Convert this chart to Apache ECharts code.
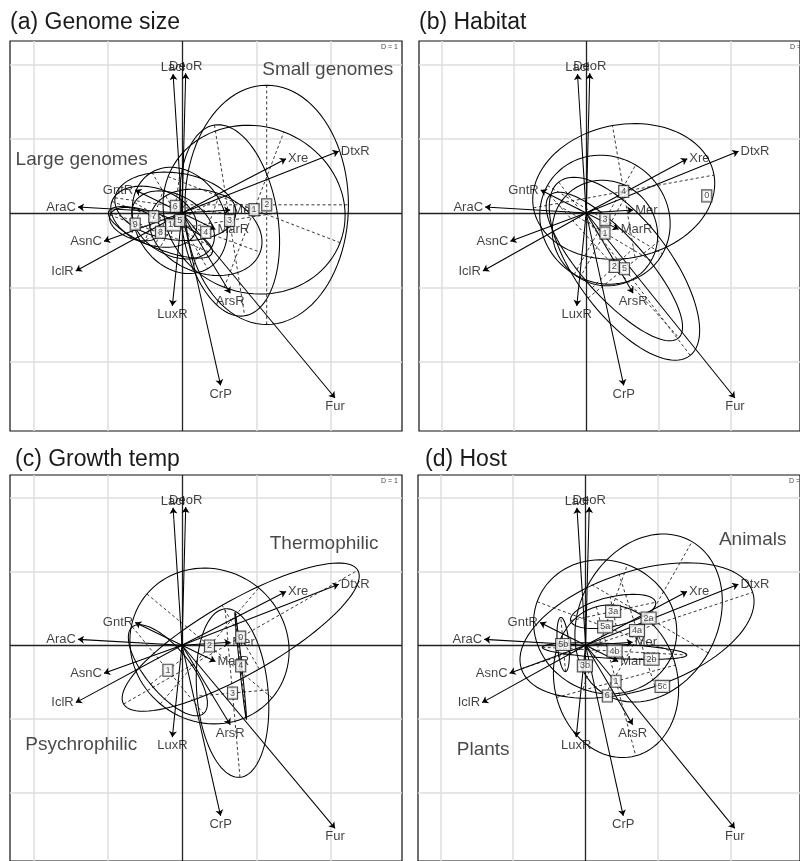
<!DOCTYPE html>
<html><head><meta charset="utf-8">
<script src="https://cdn.jsdelivr.net/npm/echarts@6.0.0/dist/echarts.min.js"></script>
<style>html,body{margin:0;padding:0;background:#fff}#c{width:800px;height:861px}</style>
</head><body><div id="c"></div>
<script>
// ---- shared biplot arrows (same in all four panels) ----
var arrowNames = ['LacI','DeoR','DtxR','Xre','GntR','AraC','AsnC','IclR','LuxR','CrP','Fur','ArsR','MarR','Mer'];
var arrowX = [-0.12, 0.05, 2.11, 1.40, -0.63, -1.40, -1.05, -1.43, -0.13, 0.52, 2.06, 0.65, 0.45, 0.65];
var arrowY = [1.87, 1.88, 0.83, 0.73, 0.31, 0.08, -0.38, -0.78, -1.25, -2.32, -2.49, -1.08, -0.22, 0.04];

var gridTicks = [-2, -1, 0, 1, 2];
var panelTitles = ['(a) Genome size', '(b) Habitat', '(c) Growth temp', '(d) Host'];

// ---- (a) genome size classes: centroid + ellipse [semi-axis a, semi-axis b, angle deg] ----
var genomeLabels = ['10', '1', '2', '3', '4', '5', '6', '7', '8', '9'];
var genomeX = [-0.12, 0.97, 1.14, 0.64, 0.32, -0.03, -0.09, -0.38, -0.29, -0.63];
var genomeY = [-0.16, 0.045, 0.11, -0.10, -0.26, -0.10, 0.09, -0.05, -0.26, -0.15];
var genomeEll = [[0.6, 0.4, -30], [1.24, 1.12, -21], [1.10, 1.61, 0], [1.3, 0.65, -81], [0.78, 0.55, -20],
                 [0.75, 0.6, -60], [0.82, 0.45, -8], [0.6, 0.38, -20], [0.75, 0.22, -22], [0.36, 0.2, -20]];

// ---- (b) habitat ----
var habitatLabels = ['0', '1', '2', '3', '4', '5'];
var habitatX = [1.67, 0.26, 0.39, 0.26, 0.52, 0.53];
var habitatY = [0.23, -0.27, -0.72, -0.09, 0.29, -0.75];
var habitatEll = [null, [0.74, 0.70, -30], [1.31, 0.42, -47], [0.92, 0.85, -30], [1.27, 0.90, 10], [1.48, 0.64, -52]];

// ---- (c) growth temperature ----
var tempLabels = ['0', '1', '2', '3', '4'];
var tempX = [0.79, -0.19, 0.37, 0.68, 0.79];
var tempY = [0.11, -0.34, -0.01, -0.65, -0.28];
var tempEll = [[1.82, 0.5, 30], [0.76, 0.3, -51], [1.1, 1.03, -40], [1.15, 0.48, 95], [0.73, 0.015, 96]];

// ---- (d) host ----
var hostLabels = ['1', '2a', '2b', '3a', '3b', '4a', '4b', '5a', '5b', '5c', '6'];
var hostX = [0.42, 0.87, 0.91, 0.38, -0.01, 0.71, 0.40, 0.27, -0.31, 1.06, 0.30];
var hostY = [-0.49, 0.37, -0.19, 0.46, -0.28, 0.20, -0.08, 0.25, 0.01, -0.56, -0.69];
var hostEll = [[1.05, 0.85, -75], [1.2, 0.95, 60], null, [0.6, 0.2, 12], null, [1.68, 0.8, 18],
               [1.0, 0.1, -3], [1.0, 0.9, -20], [0.37, 0.08, 95], null, null];

// ---- group annotations (text, data x of left edge, data y) ----
var annotText = [['Small genomes', 'Large genomes'], [], ['Thermophilic', 'Psychrophilic'], ['Animals', 'Plants']];
var annotX = [[1.08, -2.24], [], [1.18, -2.11], [1.84, -1.78]];
var annotY = [[1.93, 0.72], [], [1.38, -1.35], [1.43, -1.42]];

var panels = [
  {labels: genomeLabels, x: genomeX, y: genomeY, ell: genomeEll},
  {labels: habitatLabels, x: habitatX, y: habitatY, ell: habitatEll},
  {labels: tempLabels, x: tempX, y: tempY, ell: tempEll},
  {labels: hostLabels, x: hostX, y: hostY, ell: hostEll}
];

var FONT = '"Liberation Sans", Arial, Helvetica, sans-serif';
var frames = [{left: 10, top: 41}, {left: 419, top: 41}, {left: 10, top: 475}, {left: 418, top: 475}];
var FW = 392, FH = 390;
var XMIN = -2.315, XMAX = 2.961, YMIN = -2.934, YMAX = 2.315;
var titlePos = [[10, 23], [419, 23], [15, 460], [425, 460]];

function ellipseItem(params, api) {
  var cx = api.value(0), cy = api.value(1), a = api.value(2), b = api.value(3);
  var t0 = api.value(4) * Math.PI / 180, ca = Math.cos(t0), sa = Math.sin(t0);
  var pts = [];
  for (var i = 0; i <= 96; i++) {
    var t = i / 96 * Math.PI * 2, u = a * Math.cos(t), v = b * Math.sin(t);
    pts.push(api.coord([cx + u * ca - v * sa, cy + u * sa + v * ca]));
  }
  var p1 = api.coord([cx - a * ca, cy - a * sa]), p2 = api.coord([cx + a * ca, cy + a * sa]);
  var q1 = api.coord([cx + b * sa, cy - b * ca]), q2 = api.coord([cx - b * sa, cy + b * ca]);
  var dash = {stroke: '#222', lineWidth: 0.9, lineDash: [3, 2.5], fill: null};
  return {type: 'group', children: [
    {type: 'line', shape: {x1: p1[0], y1: p1[1], x2: p2[0], y2: p2[1]}, style: dash},
    {type: 'line', shape: {x1: q1[0], y1: q1[1], x2: q2[0], y2: q2[1]}, style: dash},
    {type: 'polyline', shape: {points: pts}, style: {stroke: '#000', lineWidth: 1.05, fill: null}}
  ]};
}

var grids = [], xAxes = [], yAxes = [], series = [], graphics = [];
panels.forEach(function (p, k) {
  grids.push({left: frames[k].left, top: frames[k].top, width: FW, height: FH, show: true,
    borderColor: '#111', borderWidth: 1.2, backgroundColor: 'transparent', containLabel: false});
  xAxes.push({type: 'value', gridIndex: k, min: XMIN, max: XMAX, show: false});
  yAxes.push({type: 'value', gridIndex: k, min: YMIN, max: YMAX, show: false});

  // light grid lines
  var gl = [];
  gridTicks.forEach(function (t) {
    if (t !== 0) {
      gl.push({coords: [[t, YMIN], [t, YMAX]]});
      gl.push({coords: [[XMIN, t], [XMAX, t]]});
    }
  });
  series.push({type: 'lines', coordinateSystem: 'cartesian2d', xAxisIndex: k, yAxisIndex: k, silent: true, z: 0,
    symbol: 'none', lineStyle: {color: '#dedede', width: 1.5, opacity: 1}, data: gl});
  // axes through origin
  series.push({type: 'lines', coordinateSystem: 'cartesian2d', xAxisIndex: k, yAxisIndex: k, silent: true, z: 1,
    symbol: 'none', lineStyle: {color: '#222', width: 1.3, opacity: 1},
    data: [{coords: [[0, YMIN], [0, YMAX]]}, {coords: [[XMIN, 0], [XMAX, 0]]}]});

  // ellipses with dashed axes
  var ed = [];
  p.ell.forEach(function (e, i) { if (e) ed.push([p.x[i], p.y[i], e[0], e[1], e[2]]); });
  series.push({type: 'custom', xAxisIndex: k, yAxisIndex: k, silent: true, z: 3, clip: true,
    encode: {x: 0, y: 1}, renderItem: ellipseItem, data: ed});

  // arrows
  series.push({type: 'lines', coordinateSystem: 'cartesian2d', xAxisIndex: k, yAxisIndex: k, silent: true, z: 4,
    symbol: ['none', 'arrow'], symbolSize: 6, lineStyle: {color: '#000', width: 1.05, opacity: 1},
    data: arrowNames.map(function (n, i) { return {coords: [[0, 0], [arrowX[i], arrowY[i]]]}; })});

  // arrow labels
  series.push({type: 'scatter', xAxisIndex: k, yAxisIndex: k, silent: true, z: 5, symbolSize: 0.1,
    itemStyle: {color: 'rgba(0,0,0,0)'},
    data: arrowNames.map(function (n, i) {
      var dx = arrowX[i], dy = arrowY[i], pos;
      if (Math.abs(dx) > Math.abs(dy)) pos = dx > 0 ? 'right' : 'left'; else pos = dy > 0 ? 'top' : 'bottom';
      return {name: n, value: [dx, dy], label: {position: pos, distance: pos === 'top' ? 0 : 2}};
    }),
    label: {show: true, formatter: '{b}', fontSize: 13, fontFamily: FONT, color: '#111'}});

  // class labels in boxes
  series.push({type: 'scatter', xAxisIndex: k, yAxisIndex: k, silent: true, z: 8, symbolSize: 0.1,
    itemStyle: {color: 'rgba(0,0,0,0)'},
    data: p.labels.map(function (n, i) { return {name: n, value: [p.x[i], p.y[i]]}; }),
    label: {show: true, formatter: '{b}', position: 'inside', fontSize: 9, lineHeight: 9, fontFamily: FONT,
      color: '#222', backgroundColor: '#fff', borderColor: '#222', borderWidth: 1.1, padding: [1.5, 2, 0.5, 2]}});

  // group annotations
  if (annotText[k].length) {
    series.push({type: 'scatter', xAxisIndex: k, yAxisIndex: k, silent: true, z: 9, symbolSize: 0.1,
      itemStyle: {color: 'rgba(0,0,0,0)'},
      data: annotText[k].map(function (t, i) { return {name: t, value: [annotX[k][i], annotY[k][i]]}; }),
      label: {show: true, formatter: '{b}', position: 'right', distance: 0, fontSize: 19, fontFamily: FONT, color: '#1a1a1a'}});
  }

  graphics.push({type: 'text', x: titlePos[k][0], y: titlePos[k][1], z: 100,
    style: {text: panelTitles[k], font: '23px ' + FONT, fill: '#1a1a1a', textVerticalAlign: 'middle', textAlign: 'left'}});
  graphics.push({type: 'text', x: frames[k].left + FW - 4, y: frames[k].top + 3, z: 100,
    style: {text: 'D = 1', font: '7px ' + FONT, fill: '#444', textVerticalAlign: 'top', textAlign: 'right'}});
});

var chart = echarts.init(document.getElementById('c'), null, {renderer: 'canvas'});
chart.setOption({
  animation: false,
  backgroundColor: '#fff',
  grid: grids, xAxis: xAxes, yAxis: yAxes, series: series, graphic: graphics
});
</script></body></html>
